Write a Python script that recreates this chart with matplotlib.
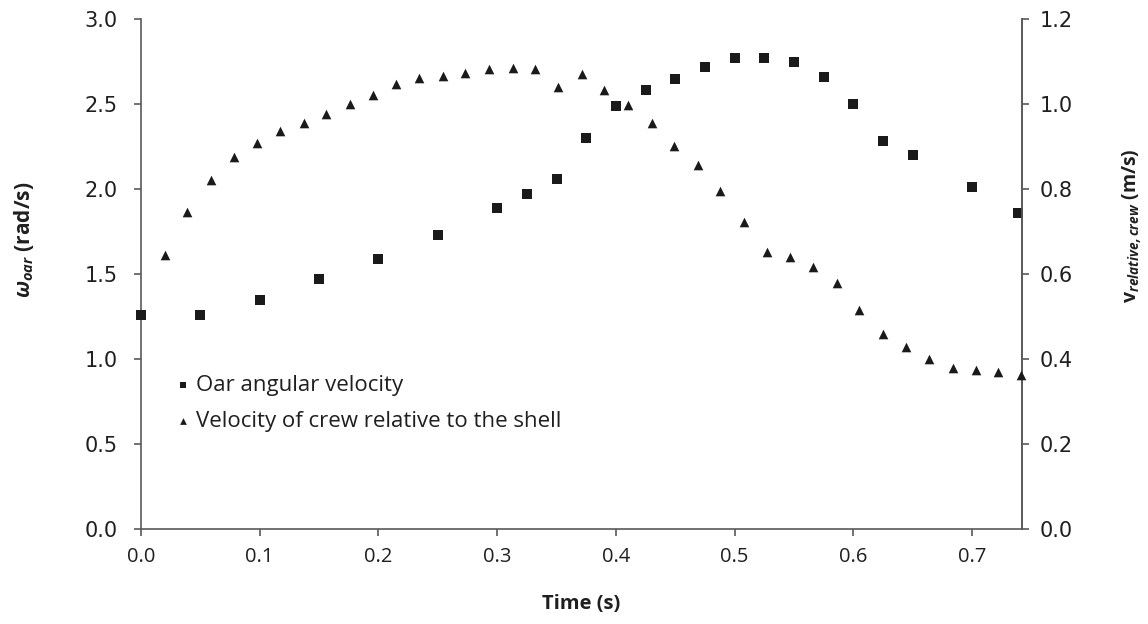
import numpy as np
import matplotlib.pyplot as plt

plt.rcParams["font.family"] = ["Open Sans", "DejaVu Sans"]
plt.rcParams["mathtext.fontset"] = "custom"
plt.rcParams["mathtext.rm"] = "Open Sans"
plt.rcParams["mathtext.it"] = "Open Sans:italic"
plt.rcParams["mathtext.bf"] = "Open Sans:bold"
plt.rcParams["mathtext.bfit"] = "Open Sans:italic:bold"

# oar angular velocity (left axis, rad/s)
oar_t = [0.0, 0.05, 0.1, 0.15, 0.2, 0.25, 0.3, 0.325, 0.35, 0.375, 0.4, 0.425,
         0.45, 0.475, 0.5, 0.525, 0.55, 0.575, 0.6, 0.625, 0.65, 0.7, 0.739]
oar_w = [1.26, 1.26, 1.35, 1.47, 1.59, 1.73, 1.89, 1.97, 2.06, 2.30, 2.49, 2.58,
         2.65, 2.72, 2.77, 2.77, 2.75, 2.66, 2.50, 2.28, 2.20, 2.01, 1.86]

# crew velocity relative to shell (right axis, m/s)
crew_t = [0.020, 0.039, 0.059, 0.078, 0.098, 0.117, 0.137, 0.156, 0.176, 0.195,
          0.215, 0.234, 0.254, 0.273, 0.293, 0.313, 0.332, 0.351, 0.371, 0.390,
          0.410, 0.430, 0.449, 0.469, 0.488, 0.508, 0.527, 0.547, 0.566, 0.586,
          0.605, 0.625, 0.644, 0.664, 0.684, 0.703, 0.722, 0.741]
crew_v = [0.645, 0.745, 0.821, 0.875, 0.908, 0.936, 0.955, 0.976, 0.999, 1.022,
          1.047, 1.062, 1.067, 1.074, 1.082, 1.085, 1.082, 1.039, 1.071, 1.033,
          0.998, 0.955, 0.901, 0.856, 0.796, 0.722, 0.652, 0.639, 0.616, 0.580,
          0.515, 0.458, 0.428, 0.399, 0.380, 0.374, 0.369, 0.362]

x_ticks = [0.0, 0.1, 0.2, 0.3, 0.4, 0.5, 0.6, 0.7]
left_ticks = [0.0, 0.5, 1.0, 1.5, 2.0, 2.5, 3.0]
right_ticks = [0.0, 0.2, 0.4, 0.6, 0.8, 1.0, 1.2]

spine_col = "#595959"
text_col = "#1f1f1f"

fig = plt.figure(figsize=(11.48, 6.24), dpi=100)
ax = fig.add_axes([141 / 1148, 1 - 529 / 624, (1022 - 141) / 1148, (529 - 19) / 624])
ax2 = ax.twinx()

sq = ax.scatter(oar_t, oar_w, marker="s", s=42, color="#1a1a1a", linewidths=0,
                clip_on=False, zorder=3, label="Oar angular velocity")
tr = ax2.scatter(crew_t, crew_v, marker="^", s=48, color="#1a1a1a", linewidths=0,
                 clip_on=False, zorder=3, label="Velocity of crew relative to the shell")

ax.set_xlim(0, 0.742)
ax.set_ylim(0, 3.0)
ax2.set_ylim(0, 1.2)
ax.set_xticks(x_ticks)
ax.set_xticklabels([f"{v:.1f}" for v in x_ticks], fontsize=14.5)
ax.set_yticks(left_ticks)
ax.set_yticklabels([f"{v:.1f}" for v in left_ticks], family="DejaVu Sans", fontsize=15)
ax2.set_yticks(right_ticks)
ax2.set_yticklabels([f"{v:.1f}" for v in right_ticks], family="DejaVu Sans", fontsize=15)

for a in (ax, ax2):
    a.spines["top"].set_visible(False)
    for s in ("left", "right", "bottom"):
        a.spines[s].set_color(spine_col)
        a.spines[s].set_linewidth(1.2)
    a.tick_params(direction="out", length=5, width=1.2, color=spine_col,
                  labelcolor=text_col, pad=8)
ax.tick_params(axis="y", pad=12)
ax2.spines["left"].set_visible(False)
ax2.spines["bottom"].set_visible(False)

ax.set_xlabel("Time (s)", fontsize=14.5, fontweight="bold", color=text_col)
ax.xaxis.set_label_coords(0.5, -(594 - 529) / 510)
ax.set_ylabel(r"$\mathbfit{\omega}_{\mathbfit{oar}}$ (rad/s)", fontsize=15,
              fontweight="bold", color=text_col)
ax.yaxis.set_label_coords((36 - 141) / 881, (529 - 240) / 510)
ax2.set_ylabel(r"$\mathbf{v}_{\mathbfit{relative,crew}}$ (m/s)", fontsize=14,
               fontweight="bold", color=text_col)
ax2.yaxis.set_label_coords((1120 - 141) / 881, (529 - 226) / 510)

ax.legend(handles=[sq, tr], loc="upper left", bbox_to_anchor=(0.040, 0.302),
          frameon=False, fontsize=16, handlelength=0.6, handletextpad=0.3,
          markerscale=0.7, labelspacing=0.66, labelcolor=text_col, borderpad=0,
          borderaxespad=0)

fig.savefig("out.png", dpi=100)
